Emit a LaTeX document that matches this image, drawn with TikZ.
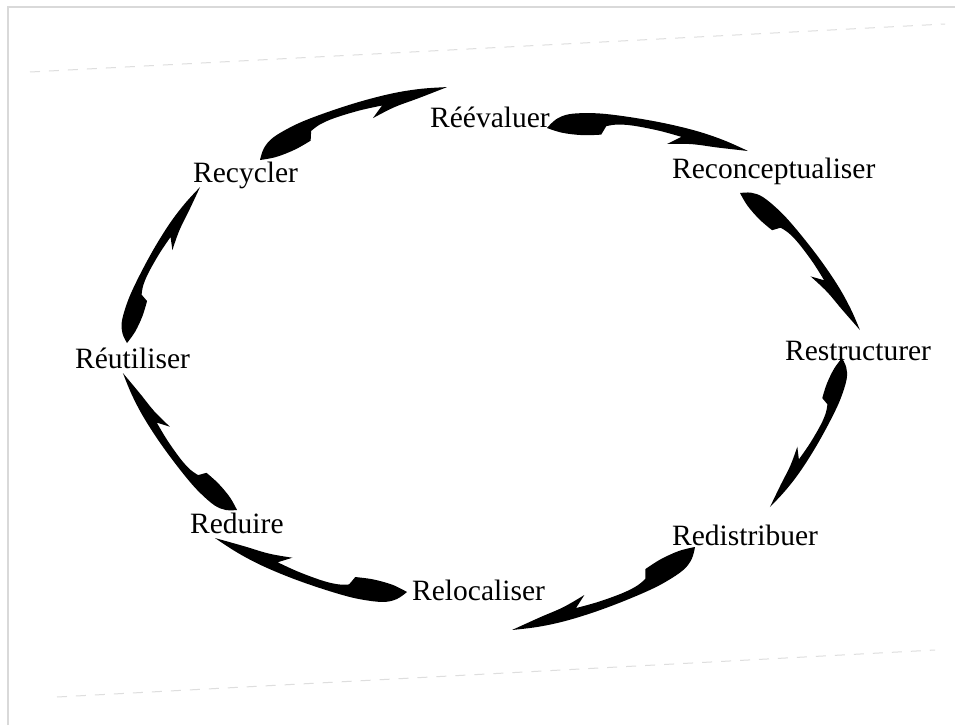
\documentclass[tikz,border=0pt]{standalone}
\usepackage{fontspec}
\setmainfont{Liberation Serif}
\begin{document}
\begin{tikzpicture}[x=1pt,y=-1pt,
  lbl/.style={font=\fontsize{29.5}{32}\selectfont, inner sep=0pt, anchor=base west},
  framel/.style={draw=black!15, line width=2pt},
  scan/.style={draw=black!13, line width=1pt, dash pattern=on 10pt off 9pt},
  swoosh/.pic={
    \fill[black] plot[smooth,tension=0.6] coordinates{(0,0) (0.04,0.048) (0.1,0.08) (0.2,0.097) (0.3,0.102) (0.45,0.098) (0.6,0.087) (0.75,0.067) (0.88,0.038) (1,0)}
      -- plot[smooth,tension=0.6] coordinates{(1,0) (0.85,0.0) (0.72,0.002) (0.6,-0.01)}
      -- (0.665,0.032)
      -- plot[smooth,tension=0.6] coordinates{(0.665,0.032) (0.55,0.05) (0.42,0.06) (0.34,0.056) (0.29,0.042)}
      -- (0.27,-0.002)
      -- plot[smooth,tension=0.6] coordinates{(0.27,-0.002) (0.18,-0.015) (0.08,-0.015) (0,0)}
      -- cycle;
  }]
\useasboundingbox (0,0) rectangle (955,725);
\fill[white] (0,0) rectangle (955,725);
% frame and scan lines
\draw[framel] (7.5,725) -- (7.5,7.5) -- (955,7.5);
\draw[scan] (30,72) -- (945,24);
\draw[scan] (57,697) -- (935,650);
% labels
\node[lbl] (reev) at (430,127) {Réévaluer};
\node[lbl] (recon) at (672,178) {Reconceptualiser};
\node[lbl] (restr) at (785,360) {Restructurer};
\node[lbl] (redis) at (672,545) {Redistribuer};
\node[lbl] (reloc) at (412,600) {Relocaliser};
\node[lbl] (redu) at (190,533) {Reduire};
\node[lbl] (reut) at (75,368) {Réutiliser};
\node[lbl] (recy) at (193,182) {Recycler};
% arrow anchors
\coordinate (s1) at (260,160);
\coordinate (s2) at (547,128);
\coordinate (s3) at (740,193);
\coordinate (s4) at (842,358);
\coordinate (s5) at (695,547);
\coordinate (s6) at (407,592);
\coordinate (s7) at (237,510);
\coordinate (s8) at (127,343);
% swoosh arrows (clockwise)
\pic[rotate=21.3,   scale=200.7, yscale=-1] at (s1) {swoosh};
\pic[rotate=-6.53,  scale=202.3, yscale=-1] at (s2) {swoosh};
\pic[rotate=-48.8,  scale=182.1, yscale=-1] at (s3) {swoosh};
\pic[rotate=-115.8, scale=165.5, yscale=-1] at (s4) {swoosh};
\pic[rotate=-155.6, scale=200.9, yscale=-1] at (s5) {swoosh};
\pic[rotate=164.3,  scale=199.4, yscale=-1] at (s6) {swoosh};
\pic[rotate=129.8,  scale=178.2, yscale=-1] at (s7) {swoosh};
\pic[rotate=64.9,   scale=172.2, yscale=-1] at (s8) {swoosh};
\end{tikzpicture}
\end{document}
